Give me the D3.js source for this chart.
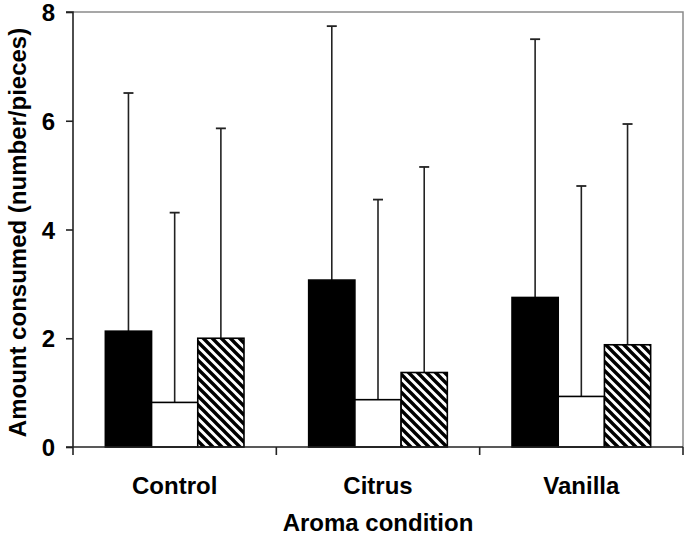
<!DOCTYPE html>
<html>
<head>
<meta charset="utf-8">
<script src="https://cdn.jsdelivr.net/npm/d3@7"></script>
<style>
  html, body { margin: 0; padding: 0; background: #fff; }
  svg { display: block; }
  text { font-family: "Liberation Sans", Arial, sans-serif; font-weight: bold; fill: #000; }
</style>
</head>
<body>
<svg id="chart" width="685" height="539"></svg>
<script>
const categories = ["Control", "Citrus", "Vanilla"];
const seriesNames = ["A", "B", "C"];
const means = {
  A: [2.13, 3.07, 2.75],
  B: [0.82, 0.87, 0.93],
  C: [2.00, 1.37, 1.88]
};
const upper = {
  A: [6.51, 7.74, 7.50],
  B: [4.31, 4.55, 4.80],
  C: [5.86, 5.15, 5.94]
};
const yTicks = [0, 2, 4, 6, 8];

const svg = d3.select("#chart");
const m = { left: 73, right: 2, top: 12, bottom: 92 };
const W = 685, H = 539;
const x0 = d3.scaleBand().domain(categories).range([m.left, W - m.right]).paddingInner(0).paddingOuter(0);
const x1 = d3.scaleBand().domain(seriesNames).range([0, x0.bandwidth()]).paddingOuter(0.7).paddingInner(0);
const y = d3.scaleLinear().domain([0, 8]).range([H - m.bottom, m.top]);

// hatch pattern
const defs = svg.append("defs");
const pat = defs.append("pattern").attr("id", "hatch").attr("patternUnits", "userSpaceOnUse")
  .attr("width", 9).attr("height", 9);
pat.append("rect").attr("width", 9).attr("height", 9).attr("fill", "#fff");
pat.append("path").attr("d", "M-2,-2 L11,11 M-2,7 L2,11 M7,-2 L11,2").attr("stroke", "#000").attr("stroke-width", 3.4);

// frame (gray top/right)
svg.append("path")
  .attr("d", `M${m.left},${m.top} H${W - m.right} V${H - m.bottom}`)
  .attr("fill", "none").attr("stroke", "#8a8a8a").attr("stroke-width", 1.5);

const fills = { A: "#000", B: "#fff", C: "url(#hatch)" };

// error bars
categories.forEach((c, i) => {
  seriesNames.forEach(s => {
    const cx = x0(c) + x1(s) + x1.bandwidth() / 2;
    svg.append("line").attr("x1", cx).attr("x2", cx)
      .attr("y1", y(means[s][i])).attr("y2", y(upper[s][i]))
      .attr("stroke", "#222").attr("stroke-width", 1.6);
    svg.append("line").attr("x1", cx - 5).attr("x2", cx + 5)
      .attr("y1", y(upper[s][i])).attr("y2", y(upper[s][i]))
      .attr("stroke", "#222").attr("stroke-width", 1.8);
  });
});

// bars
categories.forEach((c, i) => {
  seriesNames.forEach(s => {
    svg.append("rect")
      .attr("x", x0(c) + x1(s))
      .attr("y", y(means[s][i]))
      .attr("width", x1.bandwidth())
      .attr("height", y(0) - y(means[s][i]))
      .attr("fill", fills[s])
      .attr("stroke", "#000").attr("stroke-width", 1.6);
  });
});

// y axis
const yAxis = d3.axisLeft(y).tickValues(yTicks).tickSize(7).tickPadding(11).tickFormat(d3.format("d"));
const gy = svg.append("g").attr("transform", `translate(${m.left},0)`).call(yAxis);
gy.attr("font-size", null);
gy.select(".domain").attr("stroke", "#222").attr("stroke-width", 1.6).attr("d", `M-7,${m.top}H0V${H - m.bottom}`);
gy.selectAll(".tick line").attr("stroke", "#222").attr("stroke-width", 1.6);
gy.selectAll(".tick text").style("font-size", "24px").attr("dy", "0.36em");

// x axis
const gx = svg.append("g").attr("transform", `translate(0,${H - m.bottom})`)
  .call(d3.axisBottom(x0).tickSize(0).tickPadding(30));
gx.attr("font-size", null);
gx.select(".domain").attr("stroke", "#222").attr("stroke-width", 1.6).attr("d", `M${m.left - 7},0H${W - m.right}`);
gx.selectAll(".tick text").style("font-size", "24px");
const edges = [0, 1, 2, 3].map(k => m.left + k * x0.step());
gx.selectAll(".edge").data(edges).enter().append("line")
  .attr("x1", d => d).attr("x2", d => d).attr("y1", 0).attr("y2", 8)
  .attr("stroke", "#222").attr("stroke-width", 1.6);

// titles
svg.append("text").attr("x", (m.left + W - m.right) / 2).attr("y", 531)
  .attr("text-anchor", "middle").style("font-size", "24px").text("Aroma condition");
svg.append("text").attr("transform", `translate(18,${(m.top + H - m.bottom) / 2 + 3}) rotate(-90)`)
  .attr("text-anchor", "middle").attr("dy", "0.35em").style("font-size", "24px")
  .text("Amount consumed (number/pieces)");
</script>
</body>
</html>
